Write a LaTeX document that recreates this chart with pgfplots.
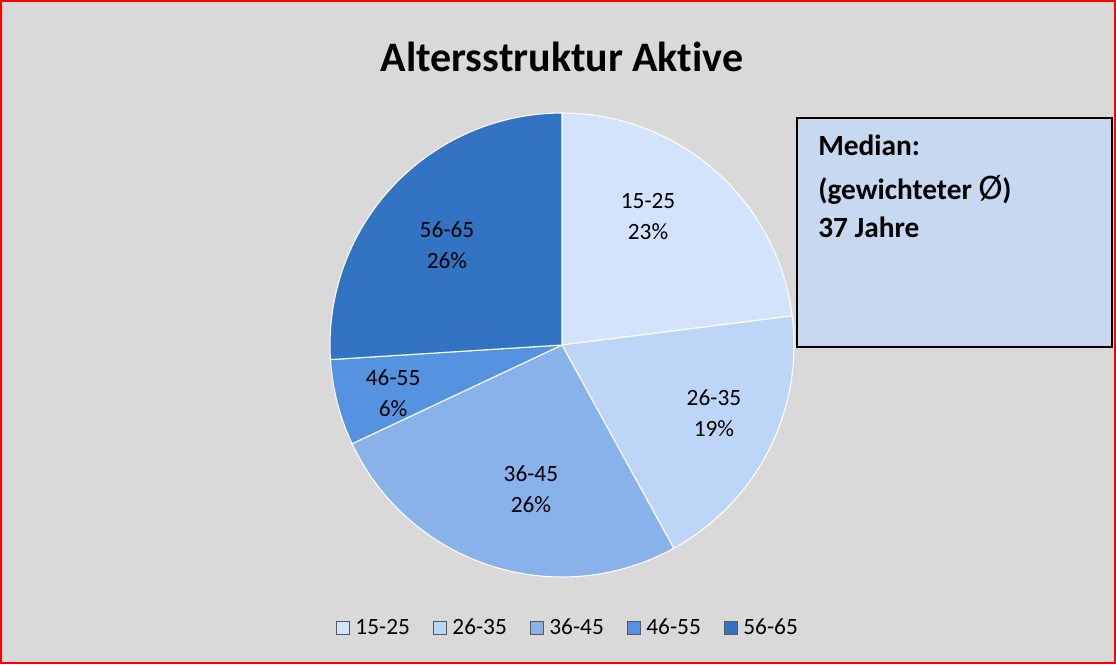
\documentclass[border=0pt]{standalone}
\usepackage{pgfplots}
\pgfplotsset{compat=1.18}
\usepackage{fontspec}
\setmainfont{Carlito}[Ligatures=NoCommon]
\definecolor{bg}{HTML}{D9D9D9}
\definecolor{cA}{HTML}{D3E3FB}
\definecolor{cB}{HTML}{BDD5F6}
\definecolor{cC}{HTML}{89B2EA}
\definecolor{cD}{HTML}{5593E0}
\definecolor{cE}{HTML}{3373C4}
\definecolor{boxfill}{HTML}{C6D9F1}
\begin{document}
\begin{tikzpicture}[x=1pt,y=1pt]
\fill[bg] (0,0) rectangle (837,498);
\draw[red, line width=1.2pt] (0.6,0.6) rectangle (836.4,497.4);
\node[font=\fontsize{31.5}{36}\selectfont\bfseries] at (421.5,455.5) {Altersstruktur Aktive};
\begin{axis}[
  at={(421.5pt,239.25pt)}, anchor=center,
  scale only axis, width=348pt, height=348pt,
  xmin=-1, xmax=1, ymin=-1, ymax=1,
  hide axis, clip=false,
  legend columns=5,
  legend style={at={(0.513,-0.11)}, anchor=center, draw=none, fill=none,
    font=\fontsize{17.5}{20}\selectfont,
    /tikz/every even column/.append style={column sep=15pt},
    /tikz/every odd column/.append style={column sep=2.5pt}},
  legend image code/.code={\draw[#1, draw=gray!70!black, line width=0.4pt] (0pt,-5pt) rectangle (10pt,5pt);},
]
% 15-25: 23%, 26-35: 19%, 36-45: 26%, 46-55: 6%, 56-65: 26% (clockwise from top)
\addplot[fill=cA, draw=white, line width=0.8pt, domain=90:7.2, samples=60] ({cos(x)},{sin(x)}) -- (axis cs:0,0) -- cycle;
\addlegendentry{15-25}
\addplot[fill=cB, draw=white, line width=0.8pt, domain=7.2:-61.2, samples=60] ({cos(x)},{sin(x)}) -- (axis cs:0,0) -- cycle;
\addlegendentry{26-35}
\addplot[fill=cC, draw=white, line width=0.8pt, domain=-61.2:-154.8, samples=60] ({cos(x)},{sin(x)}) -- (axis cs:0,0) -- cycle;
\addlegendentry{36-45}
\addplot[fill=cD, draw=white, line width=0.8pt, domain=-154.8:-176.4, samples=20] ({cos(x)},{sin(x)}) -- (axis cs:0,0) -- cycle;
\addlegendentry{46-55}
\addplot[fill=cE, draw=white, line width=0.8pt, domain=-176.4:-270, samples=60] ({cos(x)},{sin(x)}) -- (axis cs:0,0) -- cycle;
\addlegendentry{56-65}
\begin{scope}[every node/.style={font=\fontsize{17.5}{23.25}\selectfont, align=center}]
\node at (axis cs:0.371,0.552) {15-25\\23\%};
\node at (axis cs:0.655,-0.293) {26-35\\19\%};
\node at (axis cs:-0.134,-0.621) {36-45\\26\%};
\node at (axis cs:-0.728,-0.207) {46-55\\6\%};
\node at (axis cs:-0.496,0.431) {56-65\\26\%};
\end{scope}
\end{axis}
\draw[black, line width=1pt, fill=boxfill] (597.75,237.75) rectangle (834,409.5);
\begin{scope}[every node/.style={font=\fontsize{22}{26}\selectfont\bfseries, anchor=base west, inner sep=0pt}]
\node at (613.5,381) {Median:};
\node at (613.5,348.5) {(gewichteter {\mdseries\fontsize{27}{27}\selectfont Ø})};
\node at (613.5,319.5) {37 Jahre};
\end{scope}
\end{tikzpicture}
\end{document}
